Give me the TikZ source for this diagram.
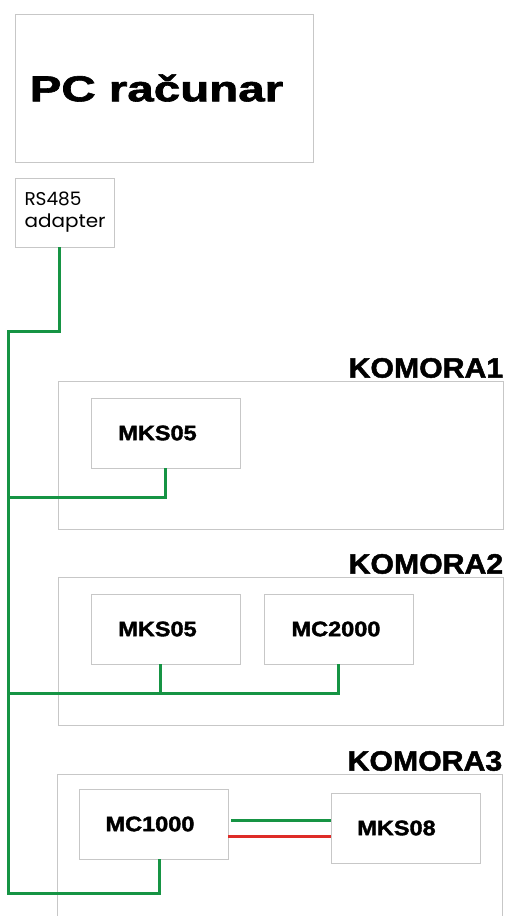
\documentclass[tikz,border=0pt]{standalone}
\usepackage{fontspec}
\setmainfont{Liberation Sans}
\newfontfamily\adapterfont{Poppins}
\newfontfamily\heavyfont[FakeBold=1.6]{Liberation Sans Bold}
\usepackage{xcolor}
\usetikzlibrary{calc,positioning}
\definecolor{buscol}{RGB}{22,148,68}
\definecolor{redwire}{RGB}{222,44,40}
\tikzset{
  frame/.style   = {draw=black!22, line width=0.8pt, inner sep=0pt},
  unit/.style    = {frame, minimum width=149pt, minimum height=70pt,
                    font=\heavyfont\fontsize{21}{24}\selectfont},
  room/.style    = {frame, minimum width=445pt, minimum height=148pt},
  roomlab/.style = {anchor=base east, inner sep=0pt,
                    font=\heavyfont\fontsize{28}{30}\selectfont},
  bus/.style     = {line width=3pt, buscol},
  pair/.style    = {line width=3pt},
}
\begin{document}
\begin{tikzpicture}[x=1pt,y=-1pt]
  \clip (0,0) rectangle (507,916);
  % PC and adapter
  \node[frame, minimum width=298pt, minimum height=148pt] (pc) at (164,88)
       {\raisebox{-5pt}{\heavyfont\fontsize{36}{40}\selectfont\scalebox{1.32}[1]{PC računar}}\hspace*{15pt}};
  \node[frame, minimum height=69pt, text width=80pt, inner xsep=9.5pt, align=left,
        font=\adapterfont\fontsize{18.5}{25}\selectfont] (rs) at (64.5,212.5)
       {RS485\\[-3pt]\scalebox{1.08}[1]{adapter}};
  % rooms
  \node[room] (k1) at (280.5,455) {};
  \node[room] (k2) at (280.5,651) {};
  \node[room] (k3) at (279.5,848) {};
  \node[roomlab] (k1lab) at ([yshift=3pt]k1.north east) {\scalebox{1.08}[1]{KOMORA1}};
  \node[roomlab] (k2lab) at ([yshift=3pt]k2.north east) {\scalebox{1.08}[1]{KOMORA2}};
  \node[roomlab] (k3lab) at ([yshift=3pt]k3.north east) {\scalebox{1.08}[1]{KOMORA3}};
  % units
  \node[unit] (m1)  at (165.5,433) {\scalebox{1.12}[1]{MKS05}\hspace*{16pt}};
  \node[unit] (m2)  at (165.5,629) {\scalebox{1.12}[1]{MKS05}\hspace*{16pt}};
  \node[unit] (mc2) at (338.5,629) {\scalebox{1.12}[1]{MC2000}\hspace*{5pt}};
  \node[unit] (mc1) at (153.5,824) {\scalebox{1.12}[1]{MC1000}\hspace*{7pt}};
  \node[unit] (m8)  at (405.5,828) {\scalebox{1.12}[1]{MKS08}\hspace*{18pt}};
  % bus
  \coordinate (bend) at (8,331);
  \coordinate (j1)   at (8,497);
  \coordinate (j2)   at (8,693);
  \coordinate (bbot) at (8,893);
  \coordinate (m2c)  at ([xshift=-5.5pt]m2.south);
  \draw[bus] ([xshift=-5.5pt]rs.south) |- (bend) -- (bbot) -| ([xshift=5.5pt]mc1.south);
  \draw[bus] (m1.south) |- (j1);
  \draw[bus] (mc2.south) |- (j2);
  \draw[bus] (m2c) -- (m2c |- j2);
  % MC1000 -- MKS08
  \coordinate (gA) at ([xshift=3pt,yshift=4pt]mc1.east);
  \coordinate (rA) at ([yshift=-12pt]mc1.east);
  \draw[pair, buscol] (gA) -- (gA -| m8.west);
  \draw[pair, redwire] (rA) -- (rA -| m8.west);
\end{tikzpicture}
\end{document}
